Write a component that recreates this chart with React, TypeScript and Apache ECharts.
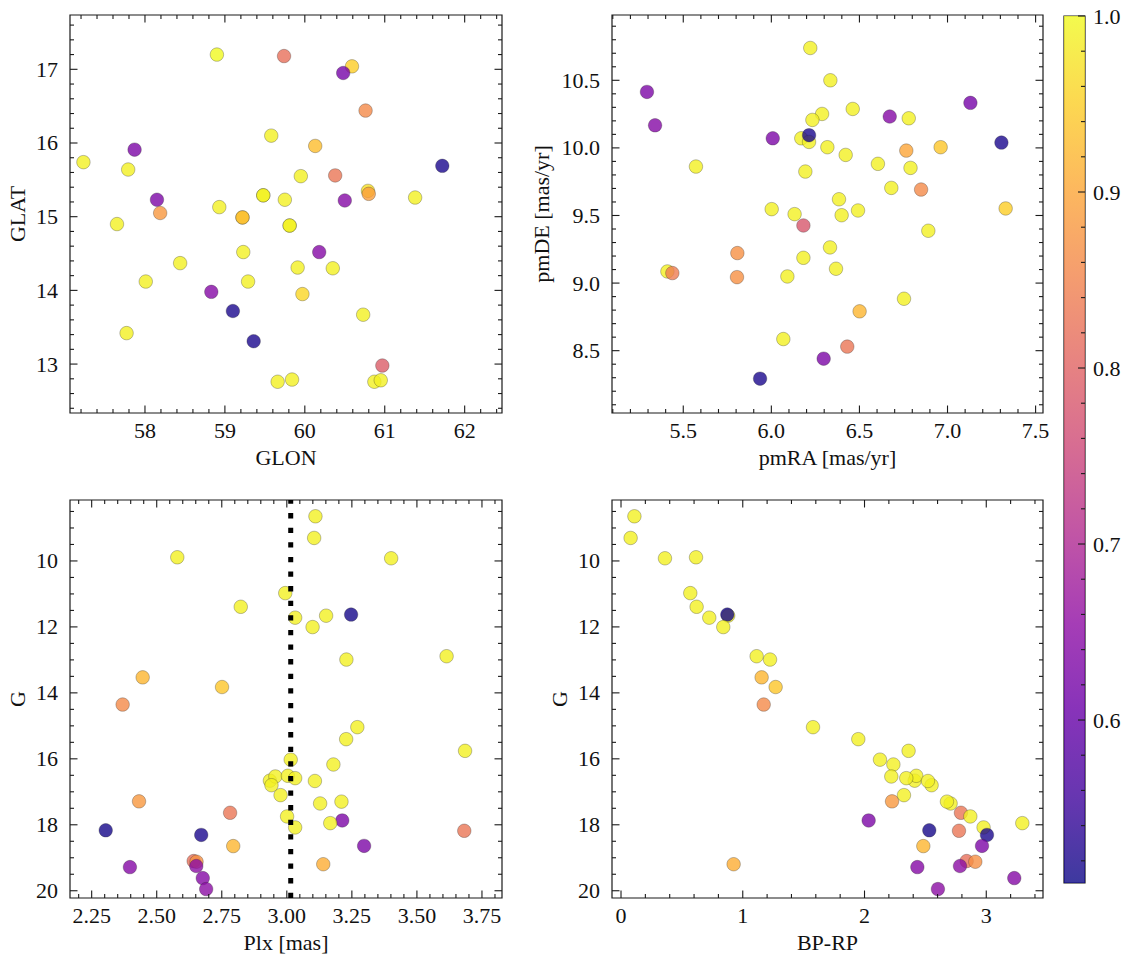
import React, { useEffect, useRef } from "react";
import * as echarts from "echarts";

const FONT = "Liberation Serif";
const FONT_SIZE = 22;
const INK = "#1a1a1a";

// colour scale (membership probability)
const PROB_MIN = 0.5074;
const PROB_MAX = 1.0;
const PLASMA = ["#0d0887", "#41049d", "#6a00a8", "#8f0da4", "#b12a90", "#cc4778", "#e16462", "#f2844b", "#fca636", "#fcce25", "#f0f921"];

// Panel A: GLON / GLAT
const glon = [58.90, 59.74, 60.59, 60.48, 60.76, 59.58, 60.13, 57.87, 57.23, 57.79, 59.95, 60.38, 61.72, 60.79, 60.80, 58.15, 59.48, 59.48, 59.75, 60.50, 61.38, 58.19, 58.93, 57.65, 59.22, 59.22, 59.81, 59.81, 59.23, 60.18, 58.44, 59.91, 60.35, 58.01, 59.29, 58.83, 59.97, 59.10, 60.73, 57.77, 59.36, 60.97, 59.66, 59.84, 60.87, 60.95];
const glat = [17.20, 17.18, 17.04, 16.95, 16.44, 16.10, 15.96, 15.91, 15.74, 15.64, 15.55, 15.56, 15.69, 15.35, 15.31, 15.23, 15.29, 15.29, 15.23, 15.22, 15.26, 15.05, 15.13, 14.90, 14.99, 14.99, 14.88, 14.88, 14.52, 14.52, 14.37, 14.31, 14.30, 14.12, 14.12, 13.98, 13.95, 13.72, 13.67, 13.42, 13.31, 12.98, 12.76, 12.79, 12.76, 12.78];
const probA = [1.0, 0.82, 0.95, 0.62, 0.86, 0.99, 0.93, 0.63, 0.99, 0.99, 0.99, 0.83, 0.52, 0.97, 0.89, 0.63, 1.0, 0.99, 0.99, 0.64, 0.99, 0.88, 0.99, 0.99, 0.99, 0.92, 1.0, 0.99, 0.99, 0.64, 0.99, 0.99, 0.99, 0.99, 0.99, 0.64, 0.96, 0.52, 0.99, 0.99, 0.52, 0.79, 0.99, 0.99, 0.99, 0.99];

// Panel B: pmRA / pmDE
const pmra = [6.221, 6.335, 5.294, 5.34, 7.13, 6.288, 6.462, 6.233, 6.672, 6.78, 6.008, 6.17, 6.214, 6.214, 6.318, 6.422, 6.766, 6.961, 7.306, 5.572, 6.193, 6.605, 6.79, 6.681, 6.85, 6.384, 6.002, 6.132, 6.399, 6.492, 6.182, 7.33, 6.891, 6.333, 5.807, 6.182, 6.367, 5.41, 5.438, 5.805, 6.091, 6.753, 6.501, 6.068, 6.431, 6.297, 5.936];
const pmde = [10.739, 10.50, 10.414, 10.167, 10.333, 10.251, 10.288, 10.207, 10.232, 10.219, 10.071, 10.071, 10.044, 10.094, 10.005, 9.948, 9.98, 10.005, 10.039, 9.862, 9.825, 9.882, 9.852, 9.704, 9.692, 9.62, 9.547, 9.51, 9.502, 9.537, 9.426, 9.552, 9.387, 9.264, 9.222, 9.187, 9.106, 9.086, 9.074, 9.044, 9.049, 8.884, 8.791, 8.586, 8.53, 8.441, 8.293];
const probB = [0.99, 0.99, 0.63, 0.64, 0.62, 0.99, 0.99, 0.99, 0.64, 0.99, 0.63, 0.99, 0.99, 0.52, 0.99, 0.99, 0.9, 0.94, 0.52, 0.99, 0.99, 0.99, 0.99, 0.99, 0.86, 0.99, 0.99, 0.99, 0.99, 0.99, 0.78, 0.95, 0.99, 0.99, 0.87, 0.99, 0.99, 0.99, 0.84, 0.87, 0.99, 0.99, 0.92, 0.99, 0.83, 0.63, 0.52];

// Panels C/D: Plx, BP-RP, G
const plx = [3.110, 3.105, 2.579, 3.401, 2.994, 2.823, 3.032, 3.151, 3.247, 3.099, 3.229, 3.614, 2.446, 2.751, 2.369, 3.271, 3.228, 3.685, 3.015, 3.179, 2.935, 2.956, 2.941, 3.004, 3.032, 3.108, 2.976, 2.432, 3.128, 3.210, 2.782, 3.001, 3.213, 3.167, 3.032, 2.304, 2.671, 3.682, 2.794, 3.297, 2.397, 2.642, 2.653, 2.652, 2.677, 2.690, 3.140];
const bprp = [0.110, 0.079, 0.616, 0.361, 0.569, 0.621, 0.725, 0.880, 0.873, 0.840, 1.224, 1.114, 1.155, 1.270, 1.172, 1.577, 1.949, 2.362, 2.127, 2.237, 2.412, 2.220, 2.551, 2.425, 2.343, 2.521, 2.324, 2.226, 2.707, 2.677, 2.792, 2.869, 2.034, 3.296, 2.978, 2.532, 3.006, 2.776, 2.483, 2.965, 2.434, 2.839, 2.910, 2.784, 3.230, 2.603, 0.925];
const gmag = [8.646, 9.303, 9.889, 9.919, 10.975, 11.39, 11.72, 11.66, 11.626, 12.005, 12.99, 12.889, 13.53, 13.823, 14.354, 15.04, 15.404, 15.758, 16.025, 16.172, 16.662, 16.535, 16.80, 16.515, 16.586, 16.672, 17.101, 17.29, 17.354, 17.298, 17.636, 17.747, 17.869, 17.95, 18.08, 18.167, 18.308, 18.182, 18.646, 18.64, 19.283, 19.10, 19.12, 19.25, 19.616, 19.949, 19.196];
const probC = [0.99, 0.99, 0.99, 0.99, 0.99, 0.99, 0.99, 0.99, 0.515, 0.99, 0.99, 0.99, 0.92, 0.94, 0.86, 0.99, 0.99, 0.99, 0.99, 0.99, 0.99, 0.99, 0.99, 0.99, 0.99, 0.99, 0.99, 0.88, 0.99, 0.99, 0.83, 0.99, 0.63, 0.99, 0.99, 0.515, 0.52, 0.83, 0.92, 0.63, 0.64, 0.82, 0.87, 0.65, 0.64, 0.65, 0.91];
const meanPlx = 3.015;

// axis limits
const glonRange = [57.062, 62.467];
const glatRange = [12.336, 17.737];
const pmraRange = [5.0955, 7.542];
const pmdeRange = [8.039, 10.983];
const plxRange = [2.1667, 3.827];
const bprpRange = [-0.074, 3.466];
const gRange = [8.152, 20.22];

// tick values
const glonTicks = [58, 59, 60, 61, 62];
const glatTicks = [13, 14, 15, 16, 17];
const pmraTicks = [5.5, 6.0, 6.5, 7.0, 7.5];
const pmdeTicks = [8.5, 9.0, 9.5, 10.0, 10.5];
const plxTicks = [2.25, 2.5, 2.75, 3.0, 3.25, 3.5, 3.75];
const gTicks = [10, 12, 14, 16, 18, 20];
const bprpTicks = [0, 1, 2, 3];
const cbTicks = [0.6, 0.7, 0.8, 0.9, 1.0];

const MAJOR_LEN = 7.5;
const MINOR_LEN = 4;

function minorTicks(range: number[], step: number, majors: number[]) {
  const out: number[] = [];
  const s = Math.ceil(range[0] / step - 1e-9);
  const e = Math.floor(range[1] / step + 1e-9);
  for (let i = s; i <= e; i++) {
    const v = +(i * step).toFixed(6);
    if (!majors.some((m) => Math.abs(m - v) < 1e-7)) out.push(v);
  }
  return out;
}

const textStyle = { fontFamily: FONT, fontSize: FONT_SIZE, color: "#111" };

function mainAxis(dim: "x" | "y", gridIndex: number, range: number[], majors: number[], fmt: (v: number) => string, name: string, nameGap: number, inverse = false) {
  return {
    type: "value", gridIndex, min: range[0], max: range[1], inverse,
    position: dim === "x" ? "bottom" : "left",
    splitLine: { show: false },
    axisLine: { show: false, onZero: false },
    axisTick: { show: false },
    axisLabel: { show: true, customValues: majors, formatter: fmt, margin: dim === "x" ? 6.5 : 12, ...textStyle },
    name, nameLocation: "middle", nameGap, nameTextStyle: { ...textStyle },
  };
}

// tick marks: [xValue, yValue, length, kind]; kind 0 = x tick (top+bottom), 1 = y tick (left+right), 2 = y tick right only
function tickData(xr: number[], yr: number[], xMaj: number[], xStep: number, yMaj: number[], yStep: number) {
  const xm = (xr[0] + xr[1]) / 2;
  const ym = (yr[0] + yr[1]) / 2;
  return [
    ...xMaj.map((v) => [v, ym, MAJOR_LEN, 0]),
    ...minorTicks(xr, xStep, xMaj).map((v) => [v, ym, MINOR_LEN, 0]),
    ...yMaj.map((v) => [xm, v, MAJOR_LEN, 1]),
    ...minorTicks(yr, yStep, yMaj).map((v) => [xm, v, MINOR_LEN, 1]),
  ];
}

const GRIDS = [
  { left: 70, top: 15, width: 432, height: 398 },
  { left: 612, top: 15, width: 431, height: 398 },
  { left: 70, top: 500, width: 432, height: 398 },
  { left: 612, top: 500, width: 431, height: 398 },
  { left: 1064, top: 16, width: 21, height: 867 },
];

function renderTick(params: any, api: any) {
  const p = api.coord([api.value(0), api.value(1)]);
  const len = api.value(2);
  const kind = api.value(3);
  const cs = params.coordSys;
  const style = { stroke: INK, lineWidth: 1.1 };
  const children: any[] = [];
  if (kind === 0) {
    children.push({ type: "line", shape: { x1: p[0], y1: cs.y + cs.height, x2: p[0], y2: cs.y + cs.height - len }, style });
    children.push({ type: "line", shape: { x1: p[0], y1: cs.y, x2: p[0], y2: cs.y + len }, style });
  } else {
    children.push({ type: "line", shape: { x1: cs.x + cs.width, y1: p[1], x2: cs.x + cs.width - len, y2: p[1] }, style });
    if (kind === 1) children.push({ type: "line", shape: { x1: cs.x, y1: p[1], x2: cs.x + len, y2: p[1] }, style });
  }
  return { type: "group", children };
}

export default function App() {
  const ref = useRef<HTMLDivElement>(null);
  useEffect(() => {
    if (!ref.current) return;
    const chart = echarts.init(ref.current, null, { renderer: "svg" });
    const int = (v: number) => String(v);
    const xAxes = [
      mainAxis("x", 0, glonRange, glonTicks, int, "GLON", 33.5),
      mainAxis("x", 1, pmraRange, pmraTicks, (v) => v.toFixed(1), "pmRA [mas/yr]", 33.5),
      mainAxis("x", 2, plxRange, plxTicks, (v) => v.toFixed(2), "Plx [mas]", 33.5),
      mainAxis("x", 3, bprpRange, bprpTicks, int, "BP-RP", 33.5),
      { type: "category", gridIndex: 4, data: ["cb"], boundaryGap: true, axisLine: { show: false, onZero: false }, axisTick: { show: false }, axisLabel: { show: false }, splitLine: { show: false } },
    ];
    const yAxes = [
      mainAxis("y", 0, glatRange, glatTicks, int, "GLAT", 42),
      mainAxis("y", 1, pmdeRange, pmdeTicks, (v) => v.toFixed(1), "pmDE [mas/yr]", 60),
      mainAxis("y", 2, gRange, gTicks, int, "G", 42, true),
      mainAxis("y", 3, gRange, gTicks, int, "G", 42, true),
      {
        type: "value", gridIndex: 4, min: PROB_MIN, max: PROB_MAX, position: "right", splitLine: { show: false },
        axisLine: { show: false, onZero: false }, axisTick: { show: false },
        axisLabel: { show: true, customValues: cbTicks, formatter: (v: number) => v.toFixed(1), margin: 8, ...textStyle },
      },
    ];
    const scatterStyle = { opacity: 0.8, borderColor: "rgba(40,40,40,0.75)", borderWidth: 0.5 };
    const mk = (gi: number, xs: number[], ys: number[], ps: number[]) => ({
      type: "scatter", xAxisIndex: gi, yAxisIndex: gi, symbolSize: 13.5, itemStyle: scatterStyle,
      data: xs.map((x, i) => [x, ys[i], ps[i]]), z: 2, silent: true,
    });
    const ticks = (gi: number, data: number[][]) => ({
      type: "custom", xAxisIndex: gi, yAxisIndex: gi, renderItem: renderTick, data, z: 10, silent: true, clip: false,
      encode: { x: 0, y: 1 },
    });
    const cbMinors = minorTicks([PROB_MIN, PROB_MAX], 0.02, cbTicks);
    chart.setOption({
      animation: false,
      backgroundColor: "#ffffff",
      grid: GRIDS.map((g) => ({ ...g, containLabel: false, show: true, borderColor: INK, borderWidth: 1.2, backgroundColor: "transparent" })),
      xAxis: xAxes,
      yAxis: yAxes,
      visualMap: {
        type: "continuous", show: false, min: PROB_MIN, max: PROB_MAX, dimension: 2, seriesIndex: [0, 1, 2, 3],
        inRange: { color: PLASMA },
      },
      series: [
        mk(0, glon, glat, probA),
        mk(1, pmra, pmde, probB),
        mk(2, plx, gmag, probC),
        mk(3, bprp, gmag, probC),
        {
          type: "line", xAxisIndex: 2, yAxisIndex: 2, symbol: "none", z: 4, silent: true,
          data: [[meanPlx, gRange[1]], [meanPlx, gRange[0]]],
          lineStyle: { color: "#000", width: 5, type: [5.3, 9.3], cap: "butt" },
        },
        {
          type: "bar", xAxisIndex: 4, yAxisIndex: 4, stack: "cb", barWidth: "100%", silent: true,
          data: [PROB_MIN], itemStyle: { color: "rgba(0,0,0,0)" },
        },
        {
          type: "bar", xAxisIndex: 4, yAxisIndex: 4, stack: "cb", barWidth: "100%", silent: true,
          data: [PROB_MAX - PROB_MIN],
          itemStyle: {
            opacity: 0.8,
            color: new echarts.graphic.LinearGradient(0, 1, 0, 0, PLASMA.map((c, i) => ({ offset: i / (PLASMA.length - 1), color: c }))),
          },
        },
        ticks(0, tickData(glonRange, glatRange, glonTicks, 0.2, glatTicks, 0.2)),
        ticks(1, tickData(pmraRange, pmdeRange, pmraTicks, 0.1, pmdeTicks, 0.1)),
        ticks(2, tickData(plxRange, gRange, plxTicks, 0.05, gTicks, 0.5)),
        ticks(3, tickData(bprpRange, gRange, bprpTicks, 0.2, gTicks, 0.5)),
        ticks(4, [...cbTicks.map((v) => [0, v, 7, 2]), ...cbMinors.map((v) => [0, v, MINOR_LEN, 2])]),
      ],
    } as any);
    return () => chart.dispose();
  }, []);
  return <div ref={ref} style={{ position: "absolute", left: 0, top: 0, width: 1133, height: 965, background: "#fff" }} />;
}
